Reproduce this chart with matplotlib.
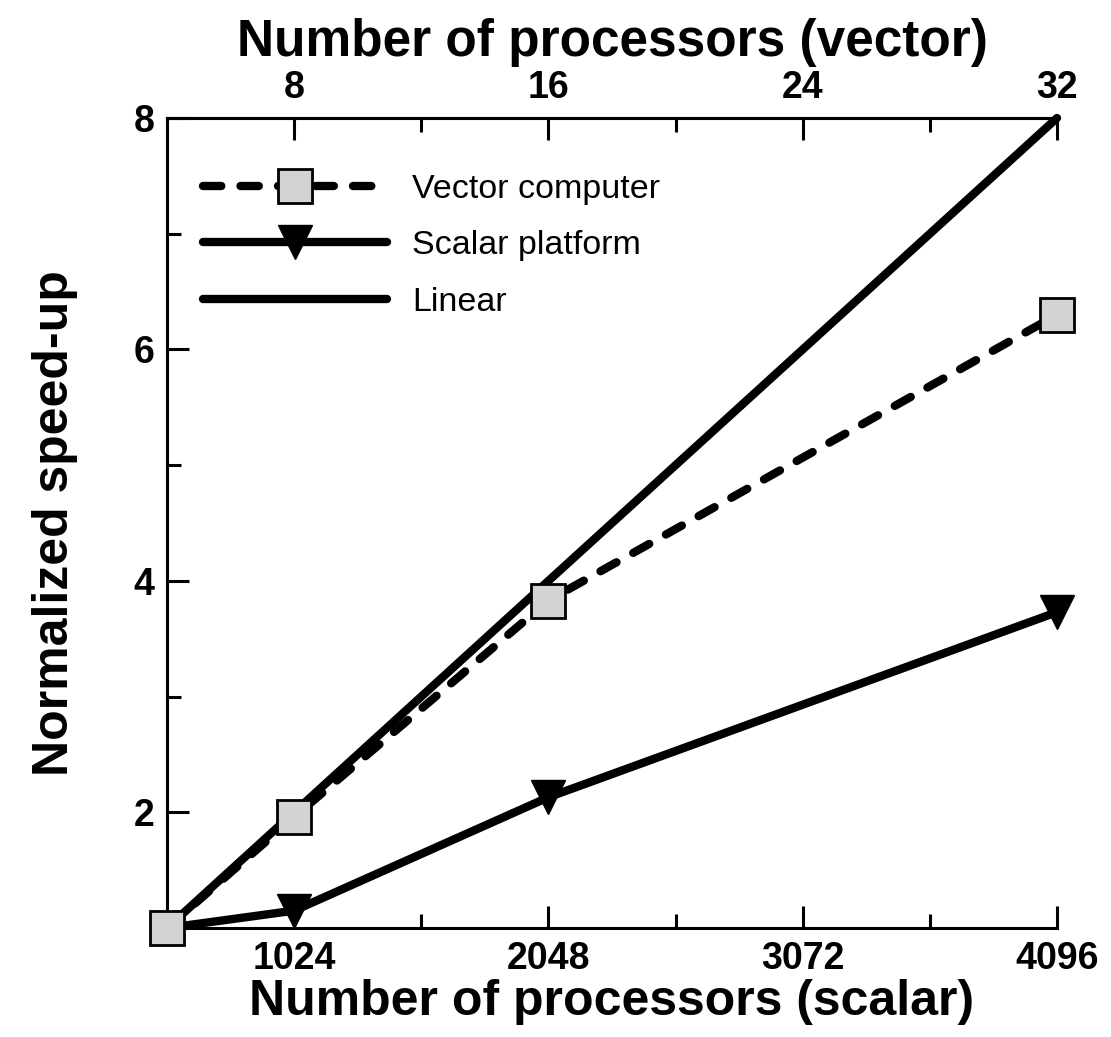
import matplotlib
matplotlib.use("Agg")
import matplotlib.pyplot as plt
from matplotlib.ticker import FixedLocator

plt.rcParams['font.family'] = ['Liberation Sans', 'DejaVu Sans']

# Data
scalar_procs = [512, 1024, 2048, 4096]
vector_speedup = [1.0, 1.96, 3.83, 6.30]
scalar_speedup = [1.0, 1.15, 2.13, 3.73]
linear_procs = [512, 4096]
linear_speedup = [1.0, 8.0]

x_ticks = [1024, 2048, 3072, 4096]
x_minor = [1536, 2560, 3584]
y_ticks = [2, 4, 6, 8]
y_minor = [3, 5, 7]
top_ticks = [8, 16, 24, 32]
top_minor = [12, 20, 28]
procs_per_vector = 128

fig = plt.figure(figsize=(11.11, 10.37), dpi=100)
ax = fig.add_axes([0.1503, 0.1051, 0.8011, 0.7811])

lw = 6
ax.plot(scalar_procs, vector_speedup, color="black", lw=lw,
        linestyle=(0, (2.2, 2.3)), dash_capstyle="round",
        marker="s", markersize=24, markerfacecolor="#d3d3d3",
        markeredgecolor="black", markeredgewidth=2,
        label="Vector computer", clip_on=False, zorder=4)
ax.plot(scalar_procs, scalar_speedup, color="black", lw=lw,
        solid_capstyle="round", marker="v", markersize=24,
        markerfacecolor="black", markeredgecolor="black",
        label="Scalar platform", clip_on=False, zorder=3)
ax.plot(linear_procs, linear_speedup, color="black", lw=lw,
        solid_capstyle="round", label="Linear", clip_on=False, zorder=2)

ax.set_xlim(512, 4096)
ax.set_ylim(1, 8)

ax.spines["right"].set_visible(False)
for s in ["left", "bottom", "top"]:
    ax.spines[s].set_linewidth(2.2)

ax.xaxis.set_major_locator(FixedLocator(x_ticks))
ax.xaxis.set_minor_locator(FixedLocator(x_minor))
ax.yaxis.set_major_locator(FixedLocator(y_ticks))
ax.yaxis.set_minor_locator(FixedLocator(y_minor))
ax.tick_params(which="major", direction="in", length=16, width=2.2,
               labelsize=27, pad=9)
ax.tick_params(which="minor", direction="in", length=10, width=2.2)
ax.tick_params(top=False, right=False)
for lab in ax.get_xticklabels() + ax.get_yticklabels():
    lab.set_fontweight("bold")

ax.set_xlabel("Number of processors (scalar)", fontsize=36,
              fontweight="bold", labelpad=2)
ax.set_ylabel("Normalized speed-up", fontsize=36, fontweight="bold",
              labelpad=40)

top = ax.secondary_xaxis("top", functions=(lambda x: x / procs_per_vector,
                                           lambda v: v * procs_per_vector))
top.xaxis.set_major_locator(FixedLocator(top_ticks))
top.xaxis.set_minor_locator(FixedLocator(top_minor))
top.spines["top"].set_linewidth(2.2)
top.tick_params(which="major", direction="in", length=16, width=2.2,
                labelsize=27, pad=9)
top.tick_params(which="minor", direction="in", length=10, width=2.2)
for lab in top.get_xticklabels():
    lab.set_fontweight("bold")
top.set_xlabel("Number of processors (vector)", fontsize=37,
               fontweight="bold", labelpad=10)

leg = ax.legend(loc="upper left", bbox_to_anchor=(0.025, 0.948), frameon=False,
                fontsize=24.5, handlelength=5.4, handletextpad=0.75,
                labelspacing=0.75, borderaxespad=0.0)

fig.savefig("out.png", dpi=100)
